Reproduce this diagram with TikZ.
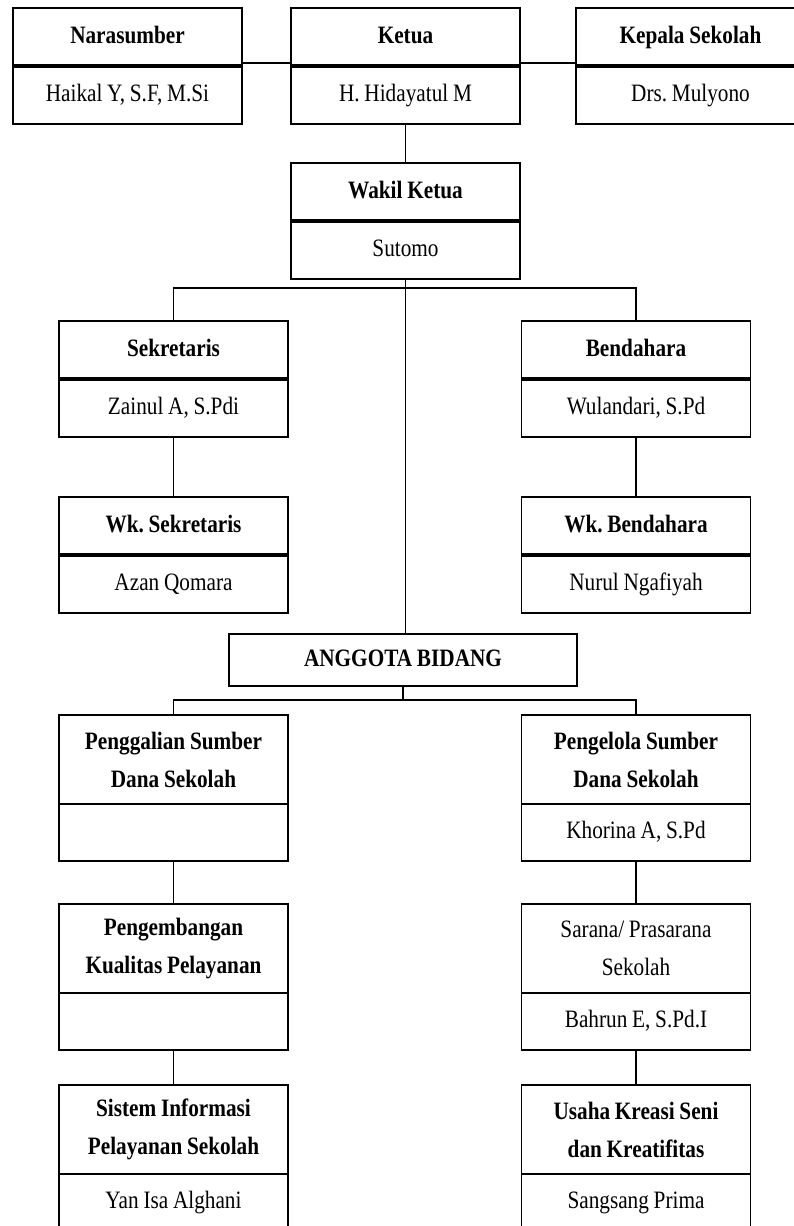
\documentclass[tikz,border=0pt]{standalone}
\usepackage{fontspec}
\setmainfont[FakeStretch=0.85]{Liberation Serif}
\usetikzlibrary{positioning}
\frenchspacing
\newcommand\tightwords{\spaceskip=0.19em\relax}

\begin{document}
\begin{tikzpicture}[%
    x=1pt, y=-1pt,
    box/.style={
        draw,
        rectangle,
        line width=1.6pt,
        inner sep=0pt,
        outer sep=0pt,
        minimum width=229pt,
        text width=224pt,
        align=center,
        execute at begin node=\tightwords,
        font=\fontsize{25}{38}\selectfont
        },
    oneline/.style={text height=17pt, text depth=5pt},
    headbox/.style={box, oneline, minimum height=58pt,
        font=\fontsize{25}{38}\selectfont\bfseries},
    namebox/.style={box, oneline, minimum height=58pt},
    tallhead/.style={box, minimum height=89pt,
        font=\fontsize{25}{38}\selectfont\bfseries},
    lowname/.style={box, oneline, minimum height=57pt},
    divider/.style={line width=3.4pt},
    thindivider/.style={line width=2.2pt},
    link/.style={line width=1.5pt},
]

\useasboundingbox[fill=white] (0,0) rectangle (794,1226);

\foreach \nm/\x/\y/\head/\who in {
    nara/127.5/8/Narasumber/{Haikal Y, S.F, M.Si},
    ketua/405.5/8/Ketua/H. Hidayatul M,
    kepsek/690.5/8/Kepala Sekolah/Drs. Mulyono,
    wakil/405.5/163/Wakil Ketua/Sutomo,
    sekr/173.5/321/Sekretaris/{Zainul A, S.Pdi},
    bend/636/321/Bendahara/{Wulandari, S.Pd},
    wksekr/173.5/497/Wk. Sekretaris/Azan Qomara,
    wkbend/636/497/Wk. Bendahara/Nurul Ngafiyah}{
    \node[headbox, anchor=north] (\nm h) at (\x,\y) {\head};
    \node[namebox, below=0pt of \nm h] (\nm n) {\who};
    \draw[divider] (\nm h.south west) -- (\nm h.south east);
}

\node[headbox, minimum width=348pt, minimum height=52pt, anchor=north]
    (anggota) at (403,634) {ANGGOTA BIDANG};

\foreach \nm/\x/\y/\head/\who in {
    gali/173.5/715/{Penggalian Sumber\\Dana Sekolah}/{},
    kelola/636/715/{Pengelola Sumber\\Dana Sekolah}/{Khorina A, S.Pd},
    kembang/173.5/904/{Pengembangan\\Kualitas Pelayanan}/{},
    sarana/636/904/{\mdseries Sarana/ Prasarana\\\mdseries Sekolah}/{Bahrun E, S.Pd.I},
    sistem/173.5/1085/{Sistem Informasi\\Pelayanan Sekolah}/Yan Isa Alghani,
    usaha/636/1085/{Usaha Kreasi Seni\\dan Kreatifitas}/Sangsang Prima}{
    \node[tallhead, anchor=north] (\nm h) at (\x,\y) {\head};
    \node[lowname, below=0pt of \nm h] (\nm n) {\who};
    \draw[thindivider] (\nm h.south west) -- (\nm h.south east);
}

\draw[link] ([yshift=3pt]narah.south east) -- ([yshift=3pt]ketuah.south west);
\draw[link] ([yshift=3pt]ketuah.south east) -- ([yshift=3pt]kepsekh.south west);
\draw[link] (ketuan.south) -- (wakilh.north);
\draw[link] (wakiln.south) -- ++(0,9) -| (sekrh.north);
\draw[link] (wakiln.south) -- ++(0,9) -| (bendh.north);
\draw[link] (wakiln.south) -- (wakiln.south |- anggota.north);
\draw[link] (sekrn.south) -- (wksekrh.north);
\draw[link] (bendn.south) -- (wkbendh.north);
\draw[link] (anggota.south) -- ++(0,14) -| (galih.north);
\draw[link] (anggota.south) -- ++(0,14) -| (kelolah.north);
\draw[link] (galin.south) -- (kembangh.north);
\draw[link] (kembangn.south) -- (sistemh.north);
\draw[link] (kelolan.south) -- (saranah.north);
\draw[link] (saranan.south) -- (usahah.north);
\end{tikzpicture}
\end{document}
